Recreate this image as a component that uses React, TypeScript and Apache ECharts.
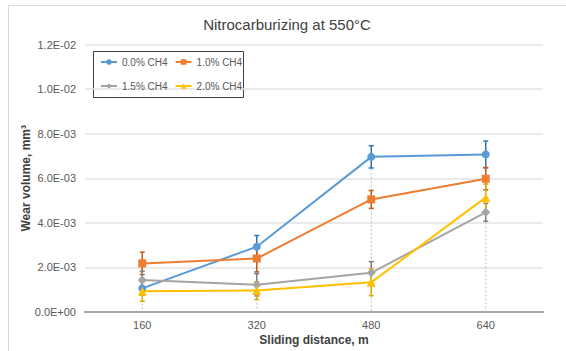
import React, { useEffect, useRef } from "react";
import * as echarts from "echarts";

const categories = ["160", "320", "480", "640"];
const seriesNames = ["0.0% CH4", "1.0% CH4", "1.5% CH4", "2.0% CH4"];
const ch4_00 = [1.06e-3, 2.93e-3, 6.96e-3, 7.07e-3];
const ch4_10 = [2.18e-3, 2.4e-3, 5.05e-3, 5.98e-3];
const ch4_15 = [1.43e-3, 1.22e-3, 1.76e-3, 4.47e-3];
const ch4_20 = [0.93e-3, 0.96e-3, 1.33e-3, 5.14e-3];
const err_00 = [0.3e-3, 0.5e-3, 0.5e-3, 0.6e-3];
const err_10 = [0.5e-3, 0.6e-3, 0.4e-3, 0.5e-3];
const err_15 = [0.4e-3, 0.5e-3, 0.5e-3, 0.4e-3];
const err_20 = [0.45e-3, 0.4e-3, 0.6e-3, 0.6e-3];

const FONT = "Liberation Sans, Arial, sans-serif";
const colors = ["#5B9BD5", "#ED7D31", "#A5A5A5", "#FFC000"];
const errColors = ["#2E75B6", "#C55A11", "#7F7F7F", "#E0A800"];
const symbols = ["circle", "rect", "diamond", "triangle"];
const symbolSizes = [8, 8, 9, 9];

function fmt(v: number): string {
  if (v === 0) return "0.0E+00";
  const s = v.toExponential(1);
  const [m, e] = s.split("e");
  const n = parseInt(e, 10);
  const sign = n < 0 ? "-" : "+";
  const abs = Math.abs(n);
  return `${m}E${sign}${abs < 10 ? "0" + abs : abs}`;
}

export default function App() {
  const ref = useRef<HTMLDivElement>(null);
  useEffect(() => {
    if (!ref.current) return;
    const chart = echarts.init(ref.current, undefined, { renderer: "svg" });
    const values = [ch4_00, ch4_10, ch4_15, ch4_20];
    const errs = [err_00, err_10, err_15, err_20];

    const maxes = categories.map((_, i) => Math.max(...values.map((v) => v[i])));

    const lineSeries = values.map((v, k) => ({
      name: seriesNames[k],
      type: "line",
      data: v,
      symbol: symbols[k],
      symbolSize: symbolSizes[k],
      itemStyle: { color: colors[k] },
      lineStyle: { width: 2, color: colors[k] },
      z: 5,
    }));

    const errSeries = values.map((v, k) => ({
      type: "custom",
      name: seriesNames[k] + " err",
      data: v.map((y, i) => [i, y - errs[k][i], y + errs[k][i]]),
      z: 4,
      silent: true,
      renderItem: (params: any, api: any) => {
        const x = api.value(0);
        const lo = api.coord([x, api.value(1)]);
        const hi = api.coord([x, api.value(2)]);
        const w = 2.5;
        const style = { stroke: errColors[k], lineWidth: 1.5 };
        return {
          type: "group",
          children: [
            { type: "line", shape: { x1: lo[0], y1: lo[1], x2: hi[0], y2: hi[1] }, style },
            { type: "line", shape: { x1: lo[0] - w, y1: lo[1], x2: lo[0] + w, y2: lo[1] }, style },
            { type: "line", shape: { x1: hi[0] - w, y1: hi[1], x2: hi[0] + w, y2: hi[1] }, style },
          ],
        };
      },
    }));

    const dropSeries = {
      type: "custom",
      name: "drop",
      data: maxes.map((m, i) => [i, m]),
      z: 1,
      silent: true,
      renderItem: (params: any, api: any) => {
        const x = api.value(0);
        const top = api.coord([x, api.value(1)]);
        const bot = api.coord([x, 0]);
        return {
          type: "line",
          shape: { x1: top[0], y1: top[1], x2: bot[0], y2: bot[1] },
          style: { stroke: "#BFBFBF", lineWidth: 1, lineDash: [2, 2] },
        };
      },
    };

    const legendCommon = {
      orient: "horizontal",
      itemWidth: 16,
      itemHeight: 7,
      itemGap: 7,
      padding: 0,
      textStyle: { fontFamily: FONT, fontSize: 10, color: "#595959" },
      selectedMode: false,
    };

    chart.setOption({
      animation: false,
      title: {
        text: "Nitrocarburizing at 550°C",
        left: 282,
        textAlign: "center",
        top: 12,
        textStyle: { fontFamily: FONT, fontSize: 15, fontWeight: "normal", color: "#404040" },
      },
      legend: [
        { ...legendCommon, data: seriesNames.slice(0, 2), left: 100, top: 57 },
        { ...legendCommon, data: seriesNames.slice(2, 4), left: 100, top: 81 },
      ],
      grid: { left: 85, right: 23, top: 44.5, bottom: 39 },
      xAxis: {
        type: "category",
        data: categories,
        boundaryGap: true,
        axisLine: { lineStyle: { color: "#A6A6A6", width: 2 } },
        axisTick: { show: false },
        axisLabel: { fontFamily: FONT, fontSize: 11, color: "#595959", margin: 7 },
        name: "Sliding distance, m",
        nameLocation: "middle",
        nameGap: 22,
        nameMoveOverlap: false,
        nameTextStyle: { fontFamily: FONT, fontSize: 12, fontWeight: "bold", color: "#404040" },
      },
      yAxis: {
        type: "value",
        min: 0,
        max: 0.012,
        interval: 0.002,
        axisLine: { show: false },
        axisTick: { show: false },
        splitLine: { lineStyle: { color: "#E3E3E3", width: 1.5 } },
        axisLabel: { fontFamily: FONT, fontSize: 11, color: "#595959", margin: 9, formatter: fmt },
        name: "Wear volume, mm³",
        nameLocation: "middle",
        nameGap: 53,
        nameMoveOverlap: false,
        nameTextStyle: { fontFamily: FONT, fontSize: 12, fontWeight: "bold", color: "#404040" },
      },
      graphic: [
        {
          type: "rect",
          shape: { x: 8.5, y: 5.5, width: 600, height: 400 },
          style: { fill: "none", stroke: "#D9D9D9", lineWidth: 1 },
          silent: true,
          z: -10,
        },
        {
          type: "rect",
          shape: { x: 93.5, y: 51.5, width: 150, height: 46 },
          style: { fill: "#FFFFFF", stroke: "#404040", lineWidth: 1 },
          silent: true,
          z: 0,
          zlevel: 0,
        },
      ],
      series: [dropSeries, ...errSeries, ...lineSeries],
    });
    return () => chart.dispose();
  }, []);
  return (
    <div
      ref={ref}
      style={{ position: "absolute", left: 0, top: 0, width: 566, height: 351 }}
    />
  );
}
